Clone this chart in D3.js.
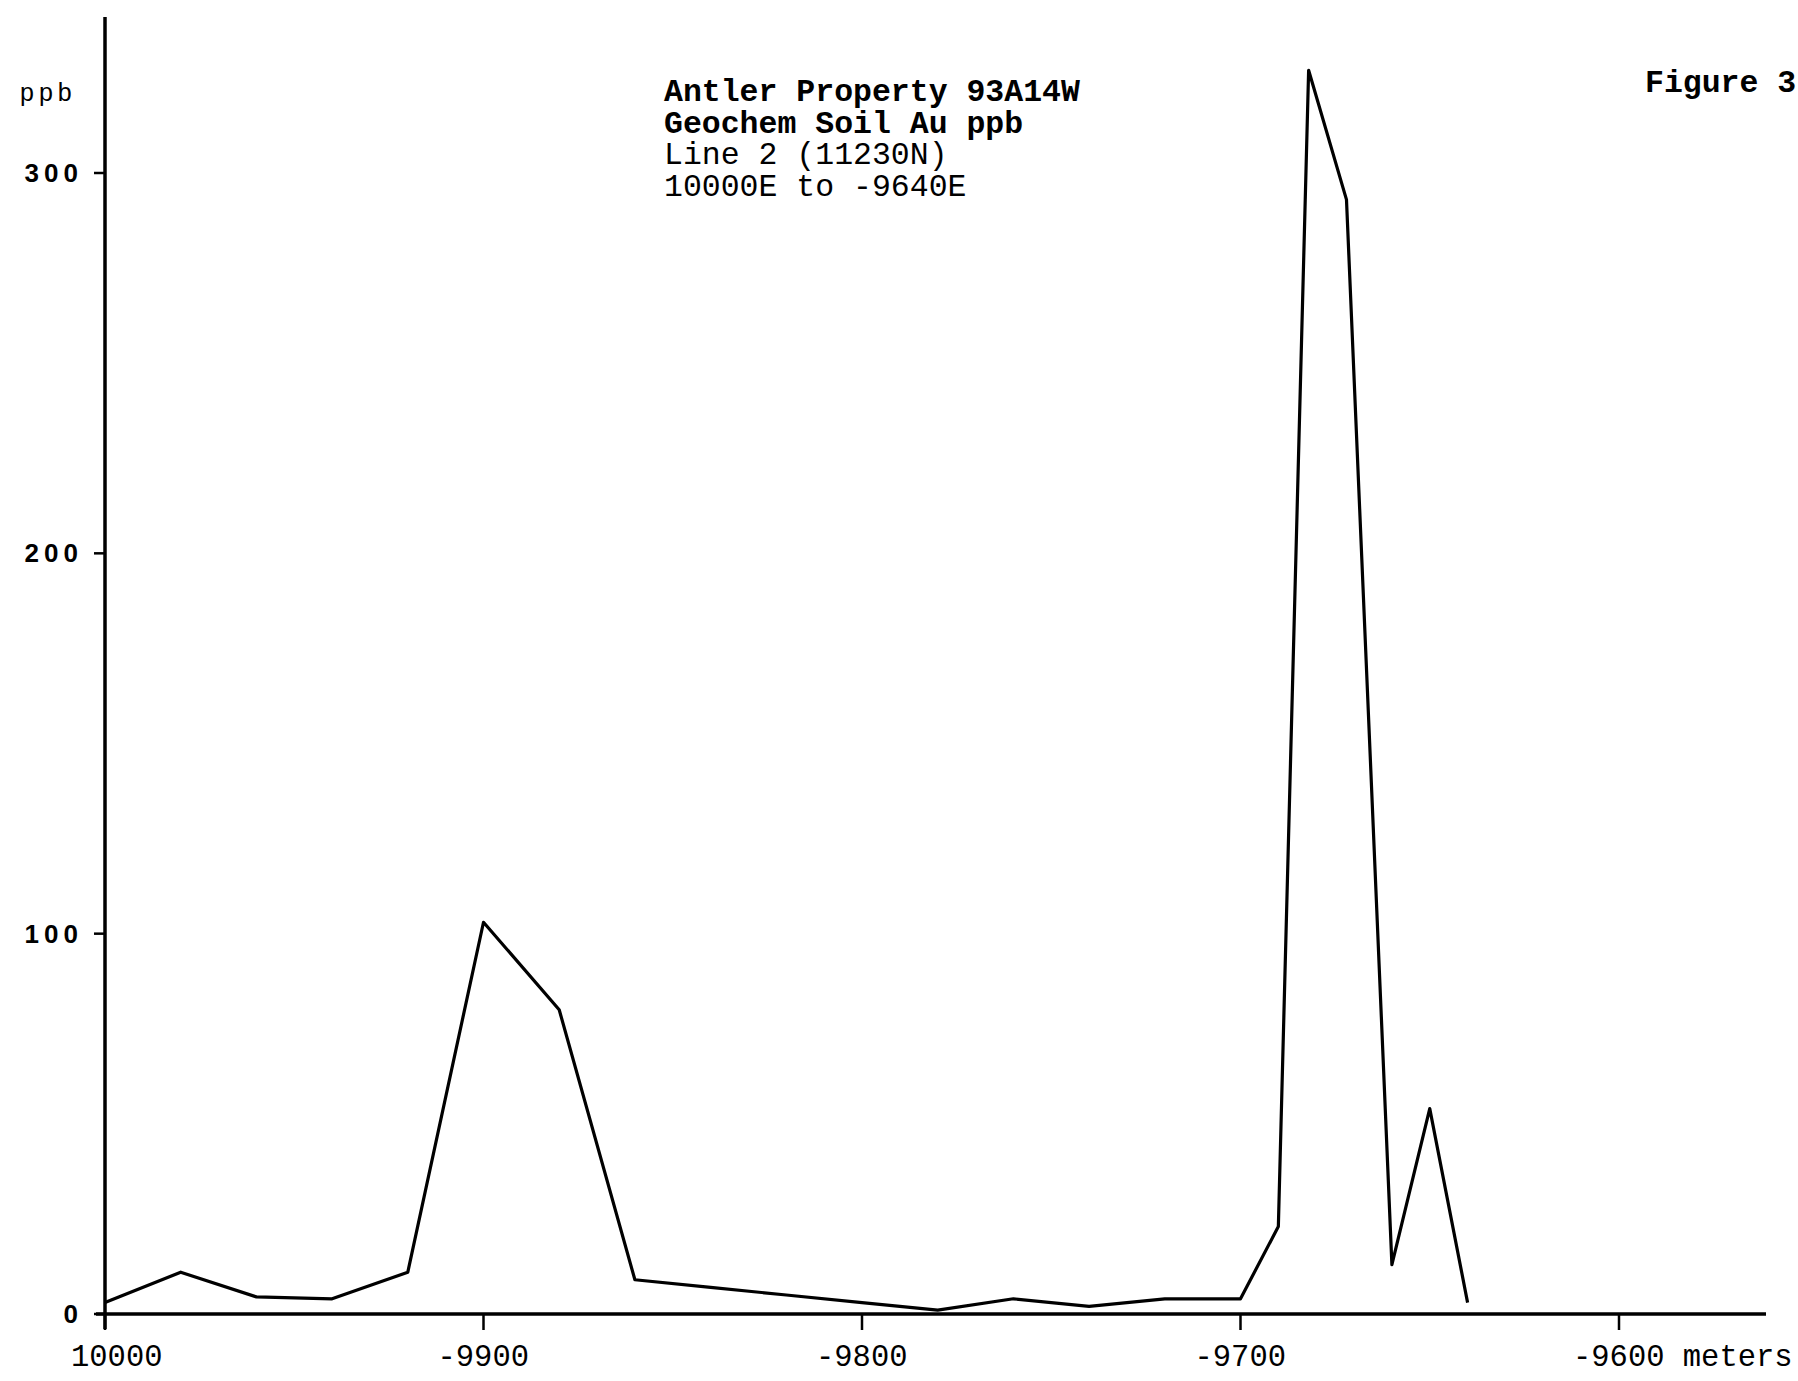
<!DOCTYPE html>
<html>
<head>
<meta charset="utf-8">
<script src="https://cdn.jsdelivr.net/npm/d3@7"></script>
<style>
body { margin: 0; background: #fff; }
svg { display: block; }
</style>
</head>
<body>
<script>
// sample positions (m) and Au values (ppb)
var stations = [-10000, -9980, -9960, -9940, -9920, -9900, -9880, -9860, -9840, -9820, -9800,
    -9780, -9760, -9740, -9720, -9700, -9690, -9682, -9672, -9660, -9650, -9640];
var auPpb = [3, 11, 4.5, 4, 11, 103, 80, 9, 7, 5, 3,
    1, 4, 2, 4, 4, 23, 327, 293, 13, 54, 3];

var xTicks = [-10000, -9900, -9800, -9700, -9600];
var xTickLabels = ["10000", "-9900", "-9800", "-9700", "-9600 meters"];
var yTicks = [0, 100, 200, 300];
var yTickLabels = ["0", "100", "200", "300"];

var titleLines = ["Antler Property 93A14W", "Geochem Soil Au ppb", "Line 2 (11230N)", "10000E to -9640E"];
var titleBold = [true, true, false, false];

var width = 1798;
var height = 1381;

var svg = d3.select("body").append("svg")
    .attr("width", width)
    .attr("height", height);

var x = d3.scaleLinear().domain([-10000, -9600]).range([105, 1619]);
var y = d3.scaleLinear().domain([0, 300]).range([1314, 173]);

var mono = "'Liberation Mono', 'Courier New', monospace";
var sans = "'Liberation Sans', Arial, sans-serif";

//axes lines
svg.append("line")
    .attr("x1", x(-10000)).attr("x2", x(-10000))
    .attr("y1", 17).attr("y2", 1329)
    .attr("stroke", "#000").attr("stroke-width", 3.5);

svg.append("line")
    .attr("x1", 96).attr("x2", 1766)
    .attr("y1", y(0)).attr("y2", y(0))
    .attr("stroke", "#000").attr("stroke-width", 3.5);

//x ticks
svg.selectAll(".xtick")
    .data(xTicks)
    .enter()
    .append("line")
    .attr("class", "xtick")
    .attr("x1", function (d) { return x(d); })
    .attr("x2", function (d) { return x(d); })
    .attr("y1", y(0))
    .attr("y2", y(0) + 16)
    .attr("stroke", "#000")
    .attr("stroke-width", 2.5);

svg.selectAll(".xlabel")
    .data(xTicks)
    .enter()
    .append("text")
    .attr("class", "xlabel")
    .attr("x", function (d, i) { return x(d) - 46 + (i === 0 ? 12 : 0); })
    .attr("y", 1366)
    .attr("font-family", mono)
    .attr("font-size", 30.5)
    .attr("fill", "#000")
    .text(function (d, i) { return xTickLabels[i]; });

//y ticks
svg.selectAll(".ytick")
    .data(yTicks)
    .enter()
    .append("line")
    .attr("class", "ytick")
    .attr("x1", 94)
    .attr("x2", x(-10000))
    .attr("y1", function (d) { return y(d); })
    .attr("y2", function (d) { return y(d); })
    .attr("stroke", "#000")
    .attr("stroke-width", 2.5);

svg.selectAll(".ylabel")
    .data(yTicks)
    .enter()
    .append("text")
    .attr("class", "ylabel")
    .attr("x", 83)
    .attr("y", function (d) { return y(d) + 9; })
    .attr("text-anchor", "end")
    .attr("font-family", sans)
    .attr("font-weight", "bold")
    .attr("font-size", 26)
    .attr("letter-spacing", 5)
    .attr("fill", "#000")
    .text(function (d, i) { return yTickLabels[i]; });

//unit label
svg.append("text")
    .attr("x", 20)
    .attr("y", 101)
    .attr("font-family", sans)
    .attr("font-size", 25)
    .attr("letter-spacing", 5)
    .attr("fill", "#000")
    .text("ppb");

//title block
svg.selectAll(".title")
    .data(titleLines)
    .enter()
    .append("text")
    .attr("class", "title")
    .attr("x", 664)
    .attr("y", function (d, i) { return 101 + i * 31.7; })
    .attr("font-family", mono)
    .attr("font-size", 31.5)
    .attr("font-weight", function (d, i) { return titleBold[i] ? "bold" : "normal"; })
    .attr("fill", "#000")
    .text(function (d) { return d; });

svg.append("text")
    .attr("x", 1645)
    .attr("y", 92)
    .attr("font-family", mono)
    .attr("font-size", 31.5)
    .attr("font-weight", "bold")
    .attr("fill", "#000")
    .text("Figure 3");

//data line
var line = d3.line()
    .x(function (d, i) { return x(stations[i]); })
    .y(function (d) { return y(d); });

svg.append("path")
    .datum(auPpb)
    .attr("d", line)
    .attr("fill", "none")
    .attr("stroke", "#000")
    .attr("stroke-width", 3.2)
    .attr("stroke-linejoin", "round");
</script>
</body>
</html>
